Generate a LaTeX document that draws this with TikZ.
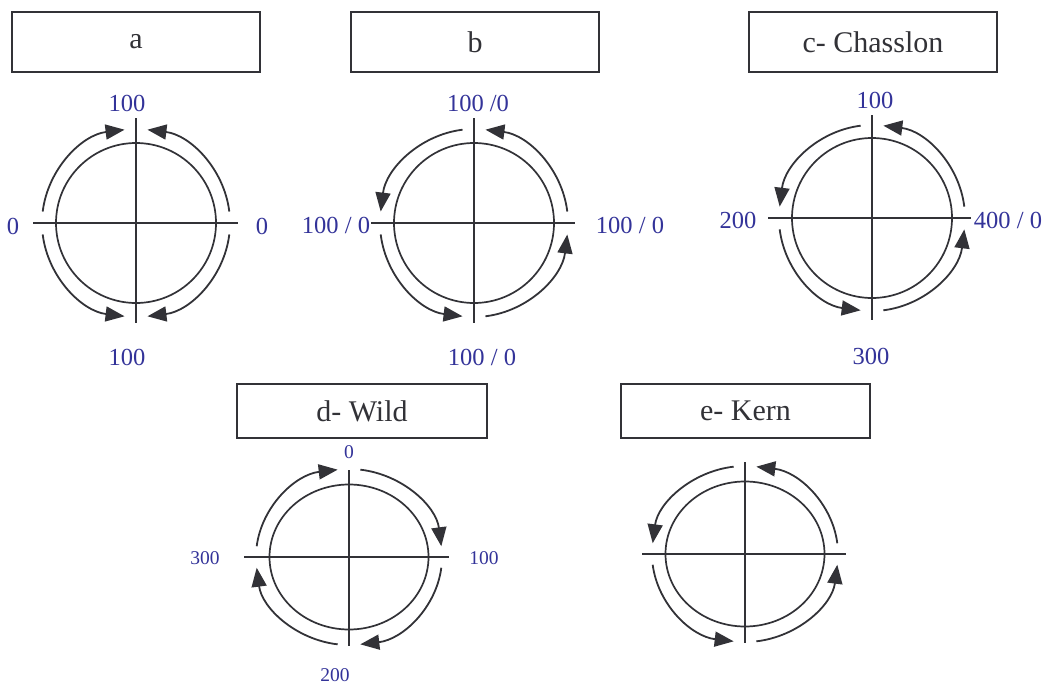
\documentclass[tikz,border=0pt]{standalone}
\usepackage{fontspec}
\setmainfont{Liberation Serif}
\usetikzlibrary{arrows.meta,shapes.geometric}
\definecolor{lbl}{RGB}{51,51,153}
\definecolor{ink}{RGB}{50,50,55}
\tikzset{
  titlebox/.style={draw=ink, line width=1.6pt, minimum height=60pt, minimum width=248pt, inner sep=0pt, font=\fontsize{30}{32}\selectfont, text=ink},
  wheel/.style={draw=ink, line width=1.7pt, circle, minimum size=160pt, inner sep=0pt},
  oval/.style={draw=ink, line width=1.7pt, ellipse, minimum width=159pt, minimum height=145pt, inner sep=0pt},
  axis/.style={draw=ink, line width=1.8pt},
  flow/.style={draw=ink, line width=1.8pt, -{Triangle[length=19pt,width=15pt]}},
  val/.style={text=lbl, font=\fontsize{24.5}{26}\selectfont, inner sep=0pt},
  sval/.style={text=lbl, font=\fontsize{19.5}{21}\selectfont, inner sep=0pt}
}
\begin{document}
\begin{tikzpicture}[x=1pt, y=1pt]
  \useasboundingbox (0,0) rectangle (1053,-685);

  % a
  \node[titlebox] (ta) at (136,-42) {a};
  \node[wheel] (ca) at (136,-223) {};
  \draw[axis] (136,-118) -- (136,-323);
  \draw[axis] (33,-223) -- (238,-223);
  \foreach \s/\e in {173/97, 7/83, 187/263, 353/277}
    \draw[flow] ([shift={(\s:94pt)}]ca.center) arc[start angle=\s, end angle=\e, radius=94pt];
  \node[val] (a1) at (127,-103) {100};
  \node[val] (a2) at (127,-357) {100};
  \node[val] (a3) at (13,-226) {0};
  \node[val] (a4) at (262,-226) {0};

  % b
  \node[titlebox] (tb) at (475,-42) {b};
  \node[wheel] (cb) at (474,-223) {};
  \draw[axis] (474,-118) -- (474,-323);
  \draw[axis] (371,-223) -- (575,-223);
  \foreach \s/\e in {7/83, 97/173, 187/263, 277/353}
    \draw[flow] ([shift={(\s:94pt)}]cb.center) arc[start angle=\s, end angle=\e, radius=94pt];
  \node[val] (b1) at (478,-103) {100 /0};
  \node[val] (b2) at (336,-225) {100 / 0};
  \node[val] (b3) at (630,-225) {100 / 0};
  \node[val] (b4) at (482,-357) {100 / 0};

  % c
  \node[titlebox, minimum width=248pt] (tc) at (873,-42) {c- Chasslon};
  \node[wheel] (cc) at (872,-218) {};
  \draw[axis] (872,-115) -- (872,-320);
  \draw[axis] (768,-218) -- (971,-218);
  \foreach \s/\e in {7/83, 97/173, 187/263, 277/353}
    \draw[flow] ([shift={(\s:93pt)}]cc.center) arc[start angle=\s, end angle=\e, radius=93pt];
  \node[val] (c1) at (875,-100) {100};
  \node[val] (c2) at (738,-220) {200};
  \node[val] (c3) at (1008,-220) {400 / 0};
  \node[val] (c4) at (871,-356) {300};

  % d
  \node[titlebox, minimum height=54pt, minimum width=250pt] (td) at (362,-411) {d- Wild};
  \node[oval] (cd) at (349,-557) {};
  \draw[axis] (349,-470) -- (349,-646);
  \draw[axis] (244,-557) -- (449,-557);
  \foreach \s/\e in {173/97, 83/7, 353/277, 263/187}
    \draw[flow] ([shift={(\s:93pt and 88pt)}]cd.center) arc[start angle=\s, end angle=\e, x radius=93pt, y radius=88pt];
  \node[sval] (d1) at (349,-452) {0};
  \node[sval] (d2) at (205,-558) {300};
  \node[sval] (d3) at (484,-558) {100};
  \node[sval] (d4) at (335,-675) {200};

  % e
  \node[titlebox, minimum height=54pt, minimum width=249pt] (te) at (745.5,-411) {e- Kern};
  \node[oval] (ce) at (745,-554) {};
  \draw[axis] (745,-462) -- (745,-643);
  \draw[axis] (642,-554) -- (846,-554);
  \foreach \s/\e in {7/83, 97/173, 187/263, 277/353}
    \draw[flow] ([shift={(\s:93pt and 88pt)}]ce.center) arc[start angle=\s, end angle=\e, x radius=93pt, y radius=88pt];
\end{tikzpicture}
\end{document}
